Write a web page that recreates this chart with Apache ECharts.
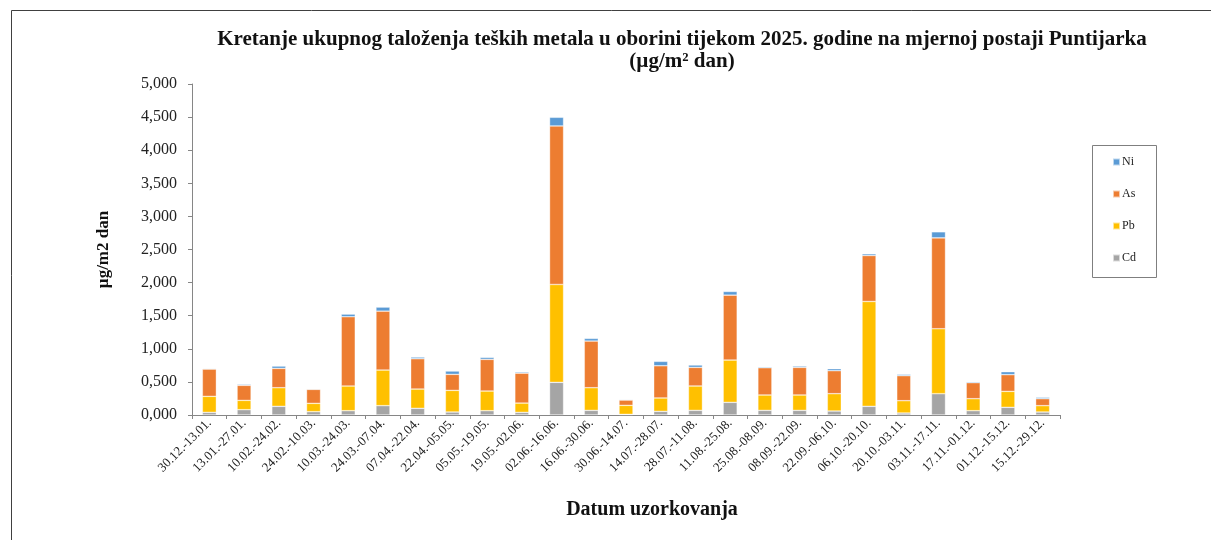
<!DOCTYPE html>
<html>
<head>
<meta charset="utf-8">
<script src="https://cdn.jsdelivr.net/npm/echarts@6/dist/echarts.min.js"></script>
<style>html,body{margin:0;padding:0;background:#fff;}#c{width:1211px;height:540px;}</style>
</head>
<body>
<div id="c"></div>
<script>
const categories = ['30.12.-13.01.','13.01.-27.01.','10.02.-24.02.','24.02.-10.03.','10.03.-24.03.','24.03.-07.04.','07.04.-22.04.','22.04.-05.05.','05.05.-19.05.','19.05.-02.06.','02.06.-16.06.','16.06.-30.06.','30.06.-14.07.','14.07.-28.07.','28.07.-11.08.','11.08.-25.08.','25.08.-08.09.','08.09.-22.09.','22.09.-06.10.','06.10.-20.10.','20.10.-03.11.','03.11.-17.11.','17.11.-01.12.','01.12.-15.12.','15.12.-29.12.'];
const cd = [0.040,0.080,0.131,0.050,0.065,0.141,0.101,0.045,0.065,0.040,0.493,0.070,0.010,0.055,0.070,0.191,0.070,0.070,0.060,0.131,0.030,0.322,0.065,0.116,0.045];
const pb = [0.242,0.141,0.281,0.126,0.373,0.538,0.291,0.327,0.297,0.140,1.479,0.342,0.136,0.202,0.368,0.639,0.232,0.232,0.262,1.584,0.186,0.981,0.181,0.241,0.096];
const as = [0.412,0.227,0.292,0.211,1.046,0.890,0.458,0.242,0.478,0.452,2.394,0.705,0.080,0.487,0.281,0.981,0.412,0.417,0.347,0.694,0.378,1.373,0.242,0.252,0.105];
const ni = [0.010,0.015,0.035,0.010,0.040,0.061,0.025,0.050,0.030,0.018,0.131,0.040,0.010,0.066,0.036,0.055,0.015,0.020,0.030,0.026,0.020,0.091,0.015,0.045,0.021];
const titleText = 'Kretanje ukupnog taloženja teških metala u oborini tijekom 2025. godine na mjernoj postaji Puntijarka\n(µg/m² dan)';
const yName = 'µg/m2 dan';
const xName = 'Datum uzorkovanja';

const serif = '"Liberation Serif", "DejaVu Serif", serif';
const chart = echarts.init(document.getElementById('c'), null, {renderer: 'canvas'});
function mk(name, data, color) {
  return {
    name: name, type: 'bar', stack: 'total', data: data, barWidth: 14,
    itemStyle: {color: color, borderColor: 'rgba(255,255,255,0.6)', borderWidth: 0.6},
    emphasis: {disabled: true}
  };
}
chart.setOption({
  animation: false,
  backgroundColor: '#fff',
  title: {
    text: titleText, left: 677, top: 24, textAlign: 'center',
    textStyle: {fontFamily: serif, fontWeight: 'bold', fontSize: 21, lineHeight: 22, color: '#111'}
  },
  graphic: [
    {type: 'line', shape: {x1: 11.5, y1: 10.5, x2: 1211, y2: 10.5}, style: {stroke: '#404040', lineWidth: 1}},
    {type: 'line', shape: {x1: 11.5, y1: 10.5, x2: 11.5, y2: 540}, style: {stroke: '#404040', lineWidth: 1}},
    {type: 'rect', shape: {x: 1092.5, y: 145.5, width: 64, height: 132}, style: {fill: 'none', stroke: '#7f7f7f', lineWidth: 1}}
  ],
  legend: {
    orient: 'vertical', left: 1112, top: 156,
    data: ['Ni', 'As', 'Pb', 'Cd'],
    itemWidth: 7, itemHeight: 7, itemGap: 20, icon: 'rect',
    padding: 0,
    textStyle: {fontFamily: serif, fontSize: 12, color: '#222', padding: [0, 0, 0, -3]}
  },
  grid: {left: 192, right: 151, top: 84, bottom: 125, containLabel: false},
  xAxis: {
    type: 'category', data: categories,
    name: xName, nameLocation: 'middle', nameGap: 85,
    nameTextStyle: {fontFamily: serif, fontWeight: 'bold', fontSize: 20, color: '#111', padding: [0, 0, 0, 52]},
    axisLine: {lineStyle: {color: '#868686', width: 1}},
    axisTick: {show: true, alignWithLabel: false, length: 4, lineStyle: {color: '#868686'}},
    axisLabel: {rotate: 45, interval: 0, fontFamily: serif, fontSize: 13, color: '#222', margin: 6}
  },
  yAxis: {
    type: 'value', min: 0, max: 5, interval: 0.5,
    name: yName, nameLocation: 'middle', nameGap: 80, nameRotate: 90,
    nameTextStyle: {fontFamily: serif, fontWeight: 'bold', fontSize: 17, color: '#111'},
    axisLine: {show: true, lineStyle: {color: '#868686', width: 1}},
    axisTick: {show: true, length: 4, lineStyle: {color: '#868686'}},
    splitLine: {show: false},
    axisLabel: {fontFamily: serif, fontSize: 16, color: '#222', margin: 15,
      formatter: function (v) { return v.toFixed(3).replace('.', ','); }}
  },
  series: [
    mk('Cd', cd, '#A5A5A5'),
    mk('Pb', pb, '#FFC000'),
    mk('As', as, '#ED7D31'),
    mk('Ni', ni, '#5B9BD5')
  ]
});
</script>
</body>
</html>
